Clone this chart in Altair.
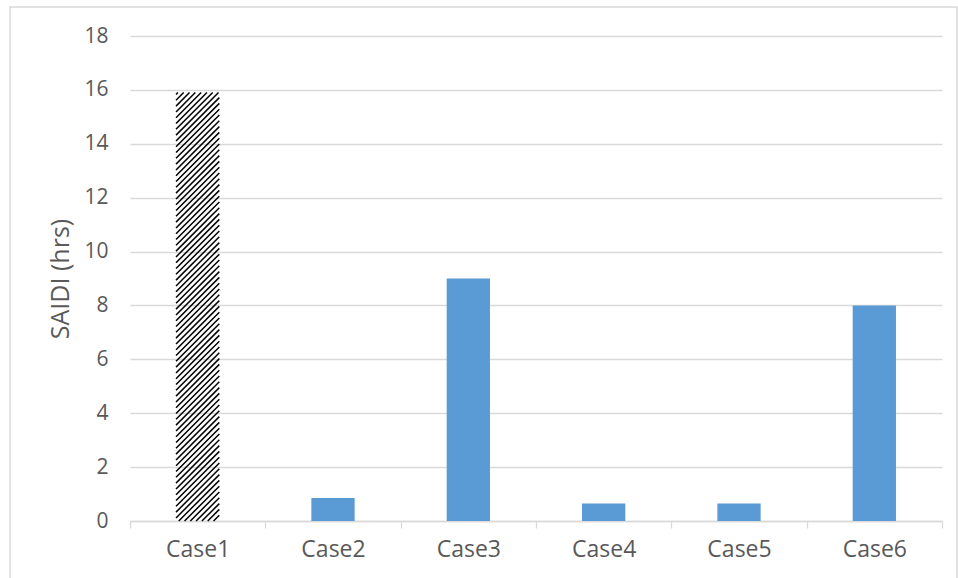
import altair as alt
import pandas as pd

# SAIDI per study case (hours)
cases = ["Case1", "Case2", "Case3", "Case4", "Case5", "Case6"]
saidi = [15.9, 0.85, 9.0, 0.65, 0.65, 8.0]
hatched_case = "Case1"
y_ticks = [0, 2, 4, 6, 8, 10, 12, 14, 16, 18]

W, H = 812, 485
Y_MAX = 18
BAR_FRAC = 0.32
FONT = "Open Sans"
GREY_TXT = "#595959"
GRID = "#d9d9d9"

df = pd.DataFrame({"case": cases, "saidi": saidi})

# Diagonal hatch segments for the hatched case, built in data units
# so that the lines run at 45 degrees on screen and stay inside its bar.
px_x = W / len(cases)
px_y = H / Y_MAX
idx = cases.index(hatched_case)
bar_left = idx + 0.5 - BAR_FRAC / 2
bw = BAR_FRAC * px_x
bh = saidi[idx] * px_y
step = 5.8
segs = []
k = -bw
while k < bh:
    u0 = max(0.0, -k)
    u1 = min(bw, bh - k)
    if u1 - u0 > 0.5:
        segs.append({
            "x": bar_left + u0 / px_x,
            "x2": bar_left + u1 / px_x,
            "y": (u0 + k) / px_y,
            "y2": (u1 + k) / px_y,
        })
    k += step
hatch_df = pd.DataFrame(segs)

y_scale = alt.Scale(domain=[0, Y_MAX], nice=False)

bars = alt.Chart(df).transform_filter(
    alt.datum.case != hatched_case
).mark_bar(width=alt.RelativeBandSize(BAR_FRAC), color="#5B9BD5").encode(
    x=alt.X(
        "case:N",
        sort=cases,
        title=None,
        scale=alt.Scale(domain=cases, paddingInner=0, paddingOuter=0),
        axis=alt.Axis(
            labelAngle=0,
            labelFont=FONT,
            labelFontSize=23,
            labelColor=GREY_TXT,
            labelPadding=10,
            domainColor=GRID,
            domainWidth=1.3,
            tickColor=GRID,
            tickWidth=1.3,
            tickSize=7,
            tickBand="extent",
            grid=False,
        ),
    ),
    y=alt.Y(
        "saidi:Q",
        scale=y_scale,
        title="SAIDI (hrs)",
        axis=alt.Axis(
            values=y_ticks,
            format="d",
            labelFont=FONT,
            labelFontSize=21,
            labelColor=GREY_TXT,
            labelPadding=22,
            ticks=False,
            domain=False,
            gridColor=GRID,
            gridWidth=1.3,
            titleFont=FONT,
            titleFontSize=25,
            titleFontWeight="normal",
            titleColor=GREY_TXT,
            titlePadding=10,
        ),
    ),
)

hatch = alt.Chart(hatch_df).mark_rule(
    color="black", strokeWidth=1.5
).encode(
    x=alt.X("x:Q", scale=alt.Scale(domain=[0, len(cases)], nice=False, zero=False), axis=None),
    x2="x2",
    y=alt.Y("y:Q", scale=y_scale),
    y2="y2",
)

# Light outer frame around the whole figure
frame = alt.Chart(pd.DataFrame({"k": [0]})).mark_rect(
    fill=None, stroke=GRID, strokeWidth=1.5
).encode(
    x=alt.value(-120), x2=alt.value(827), y=alt.value(-29), y2=alt.value(560)
)

chart = alt.layer(bars, hatch, frame).resolve_scale(x="independent").properties(
    width=W,
    height=H,
    autosize=alt.AutoSizeParams(type="none"),
    padding={"left": 130, "top": 36, "right": 16, "bottom": 57},
    background="white",
).configure_view(stroke=None)

chart.save("out.html", embed_options={"renderer": "svg", "actions": False})
